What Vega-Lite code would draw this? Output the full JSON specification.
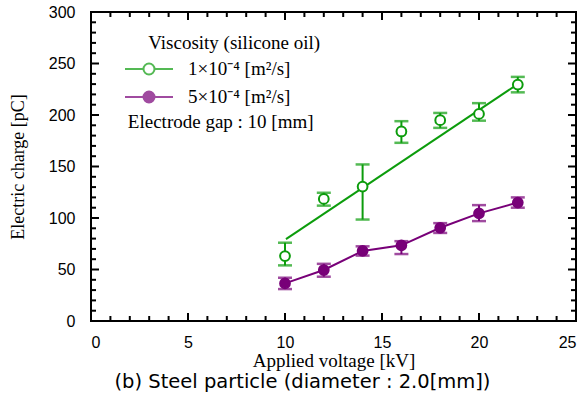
{
  "$schema": "https://vega.github.io/schema/vega-lite/v6.json",
  "width": 485,
  "height": 309,
  "autosize": "none",
  "padding": {"left": 91, "top": 12, "right": 8, "bottom": 88},
  "background": "white",
  "title": {
    "text": "(b) Steel particle (diameter : 2.0[mm])",
    "orient": "bottom",
    "anchor": "middle",
    "frame": "group",
    "dx": -31,
    "offset": 3,
    "font": "DejaVu Sans",
    "fontSize": 19.5,
    "fontWeight": "normal",
    "color": "black"
  },
  "datasets": {
    "measured": [
      {"series": "1e-4", "voltage": 10, "charge": 63, "lo": 54, "hi": 76},
      {"series": "1e-4", "voltage": 12, "charge": 118.5, "lo": 112, "hi": 124.5},
      {"series": "1e-4", "voltage": 14, "charge": 130.5, "lo": 98.5, "hi": 152},
      {"series": "1e-4", "voltage": 16, "charge": 184, "lo": 173, "hi": 194},
      {"series": "1e-4", "voltage": 18, "charge": 195, "lo": 187.5, "hi": 202},
      {"series": "1e-4", "voltage": 20, "charge": 201, "lo": 194.5, "hi": 211.5},
      {"series": "1e-4", "voltage": 22, "charge": 229.5, "lo": 222, "hi": 237},
      {"series": "5e-4", "voltage": 10, "charge": 36.5, "lo": 31, "hi": 42},
      {"series": "5e-4", "voltage": 12, "charge": 49.5, "lo": 43, "hi": 55.5},
      {"series": "5e-4", "voltage": 14, "charge": 68, "lo": 63.5, "hi": 72.5},
      {"series": "5e-4", "voltage": 16, "charge": 73.5, "lo": 65, "hi": 77.5},
      {"series": "5e-4", "voltage": 18, "charge": 90.5, "lo": 85.5, "hi": 95},
      {"series": "5e-4", "voltage": 20, "charge": 104.5, "lo": 97, "hi": 112.5},
      {"series": "5e-4", "voltage": 22, "charge": 115, "lo": 110, "hi": 120}
    ],
    "fit": [
      {"series": "1e-4", "voltage": 10.05, "charge": 79.5},
      {"series": "1e-4", "voltage": 22, "charge": 230}
    ],
    "notes": [{"note": "Viscosity (silicone oil)"}],
    "kvMajor": [{"kv": 5}, {"kv": 10}, {"kv": 15}, {"kv": 20}],
    "kvMinor": [{"kv": 1}, {"kv": 2}, {"kv": 3}, {"kv": 4}, {"kv": 6}, {"kv": 7}, {"kv": 8}, {"kv": 9},
                {"kv": 11}, {"kv": 12}, {"kv": 13}, {"kv": 14}, {"kv": 16}, {"kv": 17}, {"kv": 18}, {"kv": 19},
                {"kv": 21}, {"kv": 22}, {"kv": 23}, {"kv": 24}],
    "pcMajor": [{"pc": 50}, {"pc": 100}, {"pc": 150}, {"pc": 200}, {"pc": 250}],
    "pcMinor": [{"pc": 10}, {"pc": 20}, {"pc": 30}, {"pc": 40}, {"pc": 60}, {"pc": 70}, {"pc": 80}, {"pc": 90},
                {"pc": 110}, {"pc": 120}, {"pc": 130}, {"pc": 140}, {"pc": 160}, {"pc": 170}, {"pc": 180}, {"pc": 190},
                {"pc": 210}, {"pc": 220}, {"pc": 230}, {"pc": 240}, {"pc": 260}, {"pc": 270}, {"pc": 280}, {"pc": 290}]
  },
  "layer": [
    {
      "data": {"name": "fit"},
      "mark": {"type": "line", "strokeWidth": 2},
      "encoding": {
        "x": {
          "field": "voltage", "type": "quantitative",
          "scale": {"domain": [0, 25], "nice": false, "zero": false},
          "axis": {"orient": "bottom", "values": [0, 5, 10, 15, 20, 25], "labelPadding": 13,
                   "title": "Applied voltage [kV]", "titlePadding": 1, "titleFontSize": 19}
        },
        "y": {
          "field": "charge", "type": "quantitative",
          "scale": {"domain": [0, 300], "nice": false, "zero": false},
          "axis": {"orient": "left", "values": [0, 50, 100, 150, 200, 250, 300], "labelPadding": 16,
                   "title": "Electric charge [pC]", "titlePadding": 21, "titleFontSize": 18}
        },
        "stroke": {
          "field": "series", "type": "nominal",
          "scale": {"domain": ["1e-4", "5e-4"], "range": ["#0c9c0c", "#780078"]}
        }
      }
    },
    {
      "data": {"name": "measured"},
      "transform": [{"filter": "datum.series === '5e-4'"}],
      "mark": {"type": "line", "strokeWidth": 2},
      "encoding": {
        "x": {"field": "voltage", "type": "quantitative"},
        "y": {"field": "charge", "type": "quantitative"},
        "stroke": {"field": "series", "type": "nominal"}
      }
    },
    {
      "data": {"name": "measured"},
      "mark": {"type": "rule", "strokeWidth": 2},
      "encoding": {
        "x": {"field": "voltage", "type": "quantitative"},
        "y": {"field": "lo", "type": "quantitative"},
        "y2": {"field": "hi"},
        "stroke": {"field": "series", "type": "nominal"}
      }
    },
    {
      "data": {"name": "measured"},
      "mark": {"type": "tick", "orient": "horizontal", "size": 12, "thickness": 0.5, "filled": false, "strokeWidth": 2},
      "encoding": {
        "x": {"field": "voltage", "type": "quantitative"},
        "y": {"field": "lo", "type": "quantitative"},
        "stroke": {"field": "series", "type": "nominal"}
      }
    },
    {
      "data": {"name": "measured"},
      "mark": {"type": "tick", "orient": "horizontal", "size": 12, "thickness": 0.5, "filled": false, "strokeWidth": 2},
      "encoding": {
        "x": {"field": "voltage", "type": "quantitative"},
        "y": {"field": "hi", "type": "quantitative"},
        "stroke": {"field": "series", "type": "nominal"}
      }
    },
    {
      "data": {"name": "measured"},
      "mark": {"type": "point", "shape": "circle", "filled": true, "size": 95, "strokeWidth": 2, "opacity": 1, "fillOpacity": 1, "strokeOpacity": 1},
      "encoding": {
        "x": {"field": "voltage", "type": "quantitative"},
        "y": {"field": "charge", "type": "quantitative"},
        "stroke": {
          "field": "series", "type": "nominal",
          "legend": {
            "orient": "none", "legendX": 47, "legendY": 46,
            "title": null,
            "labelExpr": "datum.value === '1e-4' ? '1×10⁻⁴ [m²/s]' : '5×10⁻⁴ [m²/s]'",
            "symbolType": "M-2.4,0L-0.55,0M0.55,0A0.55,0.55 0 1,1 -0.55,0A0.55,0.55 0 1,1 0.55,0M0.55,0L2.4,0",
            "symbolSize": 400, "symbolStrokeWidth": 2, "symbolOpacity": 1,
            "labelFont": "Liberation Serif", "labelFontSize": 19, "labelColor": "black",
            "labelOffset": 28, "rowPadding": 7
          }
        },
        "fill": {
          "field": "series", "type": "nominal",
          "scale": {"domain": ["1e-4", "5e-4"], "range": ["white", "#780078"]},
          "legend": {
            "orient": "none", "legendX": 47, "legendY": 46,
            "title": null,
            "labelExpr": "datum.value === '1e-4' ? '1×10⁻⁴ [m²/s]' : '5×10⁻⁴ [m²/s]'",
            "symbolType": "M-2.4,0L-0.55,0M0.55,0A0.55,0.55 0 1,1 -0.55,0A0.55,0.55 0 1,1 0.55,0M0.55,0L2.4,0",
            "symbolSize": 400, "symbolStrokeWidth": 2, "symbolOpacity": 1,
            "labelFont": "Liberation Serif", "labelFontSize": 19, "labelColor": "black",
            "labelOffset": 28, "rowPadding": 7
          }
        }
      }
    },
    {
      "data": {"name": "notes"},
      "mark": {"type": "text", "align": "left", "baseline": "middle", "font": "Liberation Serif", "fontSize": 19, "color": "black"},
      "encoding": {
        "text": {"field": "note"},
        "x": {"datum": 2.95, "type": "quantitative"},
        "y": {"datum": 270, "type": "quantitative"}
      }
    },
    {
      "data": {"name": "notes"},
      "mark": {"type": "text", "align": "left", "baseline": "middle", "font": "Liberation Serif", "fontSize": 19, "color": "black", "text": "Electrode gap : 10 [mm]"},
      "encoding": {
        "x": {"datum": 1.9, "type": "quantitative"},
        "y": {"datum": 193, "type": "quantitative"}
      }
    },
    {
      "data": {"name": "kvMajor"},
      "mark": {"type": "tick", "orient": "vertical", "size": 8, "thickness": 2, "color": "#000000", "opacity": 1, "yOffset": -4},
      "encoding": {"x": {"field": "kv", "type": "quantitative"}, "y": {"datum": 0, "type": "quantitative"}}
    },
    {
      "data": {"name": "kvMajor"},
      "mark": {"type": "tick", "orient": "vertical", "size": 8, "thickness": 2, "color": "#000000", "opacity": 1, "yOffset": 4},
      "encoding": {"x": {"field": "kv", "type": "quantitative"}, "y": {"datum": 300, "type": "quantitative"}}
    },
    {
      "data": {"name": "kvMinor"},
      "mark": {"type": "tick", "orient": "vertical", "size": 5, "thickness": 2, "color": "#000000", "opacity": 1, "yOffset": -2.5},
      "encoding": {"x": {"field": "kv", "type": "quantitative"}, "y": {"datum": 0, "type": "quantitative"}}
    },
    {
      "data": {"name": "kvMinor"},
      "mark": {"type": "tick", "orient": "vertical", "size": 5, "thickness": 2, "color": "#000000", "opacity": 1, "yOffset": 2.5},
      "encoding": {"x": {"field": "kv", "type": "quantitative"}, "y": {"datum": 300, "type": "quantitative"}}
    },
    {
      "data": {"name": "pcMajor"},
      "mark": {"type": "tick", "orient": "horizontal", "size": 8, "thickness": 2, "color": "#000000", "opacity": 1, "xOffset": 4},
      "encoding": {"y": {"field": "pc", "type": "quantitative"}, "x": {"datum": 0, "type": "quantitative"}}
    },
    {
      "data": {"name": "pcMajor"},
      "mark": {"type": "tick", "orient": "horizontal", "size": 8, "thickness": 2, "color": "#000000", "opacity": 1, "xOffset": -4},
      "encoding": {"y": {"field": "pc", "type": "quantitative"}, "x": {"datum": 25, "type": "quantitative"}}
    },
    {
      "data": {"name": "pcMinor"},
      "mark": {"type": "tick", "orient": "horizontal", "size": 5, "thickness": 2, "color": "#000000", "opacity": 1, "xOffset": 2.5},
      "encoding": {"y": {"field": "pc", "type": "quantitative"}, "x": {"datum": 0, "type": "quantitative"}}
    },
    {
      "data": {"name": "pcMinor"},
      "mark": {"type": "tick", "orient": "horizontal", "size": 5, "thickness": 2, "color": "#000000", "opacity": 1, "xOffset": -2.5},
      "encoding": {"y": {"field": "pc", "type": "quantitative"}, "x": {"datum": 25, "type": "quantitative"}}
    }
  ],
  "config": {
    "view": {"stroke": "black", "strokeWidth": 2},
    "axis": {
      "domain": false, "grid": false, "ticks": false,
      "labelColor": "black", "labelFont": "Liberation Sans", "labelFontSize": 16,
      "titleFont": "Liberation Serif", "titleFontSize": 18, "titleFontWeight": "normal", "titleColor": "black"
    }
  }
}
